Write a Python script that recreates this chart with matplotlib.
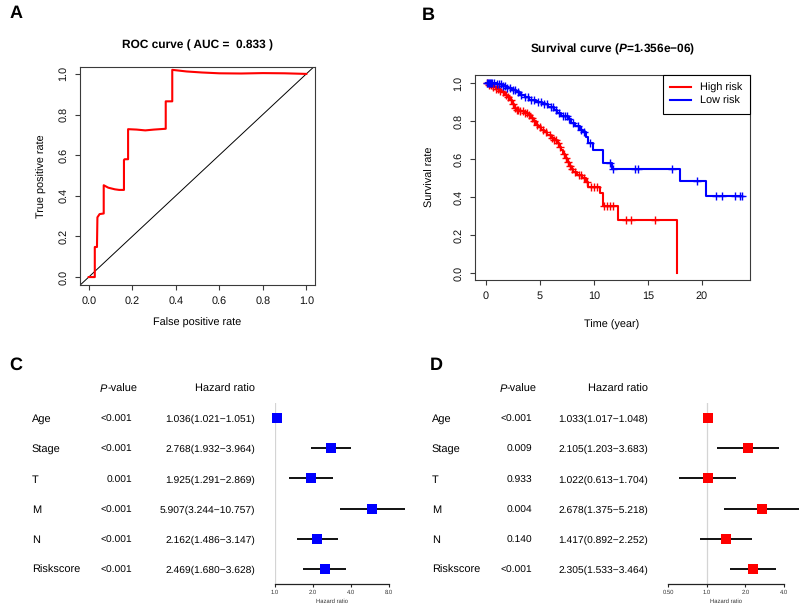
import numpy as np
import matplotlib
matplotlib.use('Agg')
import matplotlib.pyplot as plt
from matplotlib.lines import Line2D

plt.rcParams['font.family'] = ['Liberation Sans', 'DejaVu Sans']
plt.rcParams['mathtext.fontset'] = 'custom'
plt.rcParams['mathtext.it'] = 'Liberation Sans:italic:bold'
plt.rcParams['mathtext.rm'] = 'Liberation Sans:bold'
plt.rcParams['text.hinting'] = 'no_hinting'

# ---------------- data ----------------
roc_fpr = [0.0, 0.028, 0.028, 0.038, 0.040, 0.050, 0.069, 0.069, 0.09, 0.12, 0.14, 0.162, 0.162,
           0.165, 0.181, 0.181, 0.22, 0.26, 0.30, 0.354, 0.354, 0.384, 0.384, 0.45, 0.52, 0.60,
           0.70, 0.80, 0.90, 1.0]
roc_tpr = [0.0, 0.0, 0.148, 0.148, 0.294, 0.31, 0.313, 0.452, 0.44, 0.432, 0.429, 0.429, 0.576,
           0.58, 0.58, 0.728, 0.726, 0.722, 0.726, 0.730, 0.865, 0.865, 1.02, 1.012, 1.007, 1.003,
           1.002, 1.004, 1.003, 1.0]
auc_text = "0.833"

high_t = [0, 0.3, 0.6, 0.9, 1.2, 1.5, 1.8, 2.0, 2.2, 2.4, 2.6, 2.8, 3.1, 3.5, 3.9, 4.2, 4.4, 4.6,
          4.8, 5.1, 5.4, 5.7, 6.0, 6.3, 6.6, 6.8, 6.95, 7.1, 7.3, 7.5, 7.7, 7.9, 8.1, 8.4, 8.9,
          9.3, 9.5, 10.6, 10.8, 10.85, 12.2, 17.65]
high_s = [1.0, 0.99, 0.98, 0.97, 0.96, 0.95, 0.935, 0.925, 0.91, 0.89, 0.87, 0.86, 0.85, 0.84,
          0.83, 0.815, 0.80, 0.78, 0.77, 0.755, 0.74, 0.725, 0.71, 0.70, 0.685, 0.665, 0.645,
          0.625, 0.605, 0.585, 0.565, 0.545, 0.53, 0.515, 0.50, 0.48, 0.455, 0.42, 0.385, 0.35,
          0.28, 0.0]
high_cens = [0.1, 0.3, 0.5, 0.7, 0.9, 1.1, 1.3, 1.6, 1.9, 2.1, 2.3, 2.5, 2.7, 2.9, 3.0, 3.2, 3.4,
             3.6, 3.8, 4.0, 4.3, 4.5, 4.7, 5.0, 5.3, 5.6, 5.9, 6.1, 6.3, 6.5, 6.7, 6.9, 7.2, 7.4,
             7.6, 7.8, 8.0, 8.3, 8.6, 8.8, 9.1, 9.4, 9.7, 10.0, 10.3, 10.9, 11.2, 11.5, 11.75,
             13.0, 13.4, 15.7]

low_t = [0, 1.0, 1.5, 2.0, 2.4, 2.8, 3.2, 3.6, 4.0, 4.6, 5.2, 5.8, 6.3, 6.6, 7.0, 7.6, 7.9, 8.3,
         8.7, 9.0, 9.3, 9.45, 9.9, 10.8, 11.7, 18.0, 20.4]
low_s = [1.0, 0.995, 0.985, 0.975, 0.965, 0.95, 0.935, 0.925, 0.91, 0.90, 0.89, 0.875, 0.86,
         0.84, 0.825, 0.81, 0.79, 0.775, 0.755, 0.74, 0.715, 0.683, 0.647, 0.58, 0.546, 0.486,
         0.405]
low_end = 23.7
low_cens = [0.1, 0.2, 0.3, 0.4, 0.5, 0.6, 0.8, 1.0, 1.2, 1.4, 1.6, 1.8, 2.0, 2.2, 2.5, 2.7, 3.0,
            3.3, 3.6, 3.9, 4.2, 4.5, 4.8, 5.1, 5.4, 5.7, 6.0, 6.2, 6.5, 6.8, 7.1, 7.3, 7.5, 7.7,
            8.1, 8.5, 8.8, 9.1, 9.6, 11.5, 11.8, 13.8, 14.1, 17.2, 19.5, 21.3, 21.9, 23.1, 23.5,
            23.7]
surv_p = "1.356e−06"

variables = ['Age', 'Stage', 'T', 'M', 'N', 'Riskscore']
uni_p = ['<0.001', '<0.001', '0.001', '<0.001', '<0.001', '<0.001']
uni_hr = [1.036, 2.768, 1.925, 5.907, 2.162, 2.469]
uni_lo = [1.021, 1.932, 1.291, 3.244, 1.486, 1.680]
uni_hi = [1.051, 3.964, 2.869, 10.757, 3.147, 3.628]
multi_p = ['<0.001', '0.009', '0.933', '0.004', '0.140', '<0.001']
multi_hr = [1.033, 2.105, 1.022, 2.678, 1.417, 2.305]
multi_lo = [1.017, 1.203, 0.613, 1.375, 0.892, 1.533]
multi_hi = [1.048, 3.683, 1.704, 5.218, 2.252, 3.464]
uni_ticks = [1, 2, 4, 8]
uni_ticklabels = ['1.0', '2.0', '4.0', '8.0']
multi_ticks = [0.5, 1, 2, 4]
multi_ticklabels = ['0.50', '1.0', '2.0', '4.0']

# ---------------- layout helpers ----------------
W, H = 800, 604
fig = plt.figure(figsize=(8, 6.04), dpi=100)
fig.patch.set_facecolor('white')


def ax_px(l, t, r, b):
    return fig.add_axes([l / W, 1 - b / H, (r - l) / W, (b - t) / H])


def ftext(x, y, s, **kw):
    kw.setdefault('ha', 'center')
    kw.setdefault('va', 'center')
    return fig.text(x / W, 1 - y / H, s, **kw)


FRAME = '#3a3a3a'
TICKFS = 7.8


def r_style(ax):
    for sp in ax.spines.values():
        sp.set_color(FRAME)
        sp.set_linewidth(0.8)
    ax.tick_params(direction='out', length=3.6, width=0.8, color=FRAME,
                   labelsize=TICKFS, pad=4.5, labelcolor='#111111')
    for lab in ax.get_yticklabels():
        lab.set_rotation(90)
        lab.set_va('center')


# ---------------- Panel A : ROC ----------------
axA = ax_px(80, 67, 315, 285)
axA.plot(roc_fpr, roc_tpr, color='#ff0000', lw=1.5, zorder=3)
axA.axline((0, 0), (1, 1), color='black', lw=0.7)
axA.set_xlim(-0.04, 1.04)
axA.set_ylim(-0.039, 1.034)
axA.set_xticks(np.arange(0, 1.01, 0.2))
axA.set_yticks(np.arange(0, 1.01, 0.2))
axA.set_xticklabels([f"{v:.1f}" for v in np.arange(0, 1.01, 0.2)])
axA.set_yticklabels([f"{v:.1f}" for v in np.arange(0, 1.01, 0.2)])
r_style(axA)
ftext(197, 45, f"ROC curve ( AUC =  {auc_text} )", fontsize=8.6, fontweight='bold')
ftext(197, 323, "False positive rate", fontsize=TICKFS)
ftext(42, 176, "True positive rate", fontsize=TICKFS, rotation=90)
ftext(16, 13, "A", fontsize=13, fontweight='bold')

# ---------------- Panel B : survival ----------------
axB = ax_px(475, 75, 750, 280)


def km_plot(ax, t, s, cens, color, end=None):
    t = list(t)
    s = list(s)
    if end is not None:
        t = t + [end]
        s = s + [s[-1]]
    ax.step(t, s, where='post', color=color, lw=1.5, zorder=3)
    tt = np.array(t)
    ss = np.array(s)
    idx = np.searchsorted(tt, np.array(cens), side='right') - 1
    ax.plot(cens, ss[idx], ls='none', marker='+', ms=5.5, mew=1.0, color=color, zorder=4)


km_plot(axB, high_t, high_s, high_cens, '#ff0000')
km_plot(axB, low_t, low_s, low_cens, '#0000ff', end=low_end)
axB.set_xlim(-1.0, 24.45)
axB.set_ylim(-0.037, 1.042)
axB.set_xticks([0, 5, 10, 15, 20])
axB.set_yticks(np.arange(0, 1.01, 0.2))
axB.set_yticklabels([f"{v:.1f}" for v in np.arange(0, 1.01, 0.2)])
r_style(axB)
leg = axB.legend([Line2D([], [], color='#ff0000', lw=1.5), Line2D([], [], color='#0000ff', lw=1.5)],
                 ['High risk', 'Low risk'], loc='upper right', borderaxespad=0, fontsize=TICKFS,
                 handlelength=1.9, handletextpad=0.85, labelspacing=0.3, borderpad=0.7,
                 fancybox=False, framealpha=1)
leg.get_frame().set_edgecolor('black')
leg.get_frame().set_linewidth(0.8)
ftext(613, 49, "Survival curve ($\\mathit{P}$=" + surv_p + ")", fontsize=8.6, fontweight='bold')
ftext(612, 325, "Time (year)", fontsize=TICKFS)
ftext(430, 177, "Survival rate", fontsize=TICKFS, rotation=90)
ftext(428, 15, "B", fontsize=13, fontweight='bold')

# ---------------- Panels C, D : forest plots ----------------
row_y = [418, 448, 479, 509, 539, 569]
WORDFS = 7.9
NUMFS = 7.4
BASE = 3.9  # baseline offset below row centre (px)


def forest(letter, letter_xy, x_lab, x_p, x_hr, p_split, pvals, hr, lo, hi, box_l, box_r,
           xlim, ticks, ticklabels, color):
    ftext(*letter_xy, letter, fontsize=13, fontweight='bold')
    ftext(p_split, 388 + BASE, "P", fontsize=WORDFS, style='italic', ha='right', va='baseline')
    ftext(p_split, 388 + BASE, "-value", fontsize=WORDFS, ha='left', va='baseline')
    ftext(x_hr, 388 + BASE, "Hazard ratio", fontsize=WORDFS, ha='right', va='baseline')
    for i, name in enumerate(variables):
        yb = row_y[i] + BASE
        ftext(x_lab, yb, name, fontsize=WORDFS, ha='left', va='baseline')
        ftext(x_p, yb, pvals[i], fontsize=NUMFS, ha='right', va='baseline')
        ftext(x_hr, yb, f"{hr[i]:.3f}({lo[i]:.3f}−{hi[i]:.3f})", fontsize=NUMFS, ha='right',
              va='baseline')
    ax = ax_px(box_l, 403, box_r, 584)
    ax.set_xscale('log', base=2)
    ax.set_xlim(*xlim)
    ax.set_ylim(5 + 15 / 30.2, -15 / 30.2)
    ax.axvline(1, color='#d4d4d4', lw=0.9, zorder=1)
    ys = np.arange(len(variables))
    ax.hlines(ys, lo, hi, color='#111111', lw=1.4, zorder=2, clip_on=False)
    ax.plot(hr, ys, ls='none', marker='s', ms=7.3, mew=0, color=color, zorder=3, clip_on=False)
    for k in ['top', 'left', 'right']:
        ax.spines[k].set_visible(False)
    ax.spines['bottom'].set_color('#222222')
    ax.spines['bottom'].set_linewidth(0.9)
    ax.set_yticks([])
    ax.set_xticks(ticks)
    ax.set_xticklabels(ticklabels)
    ax.xaxis.set_minor_locator(matplotlib.ticker.NullLocator())
    ax.tick_params(axis='x', direction='out', length=2.3, width=0.8, color='#222222',
                   labelsize=4.2, pad=2.0, labelcolor='#333333')
    ax.patch.set_alpha(0)
    ftext((box_l + box_r) / 2, 601, "Hazard ratio", fontsize=4.2, color='#333333')


forest("C", (16, 365), 32, 132, 255, 107.3, uni_p, uni_hr, uni_lo, uni_hi, 275, 389,
       (1, 8), uni_ticks, uni_ticklabels, '#0000ff')
forest("D", (436, 365), 432, 532, 648, 506.7, multi_p, multi_hr, multi_lo, multi_hi, 668, 784,
       (0.5, 4), multi_ticks, multi_ticklabels, '#ff0000')

fig.savefig('out.png', dpi=100, facecolor='white')
